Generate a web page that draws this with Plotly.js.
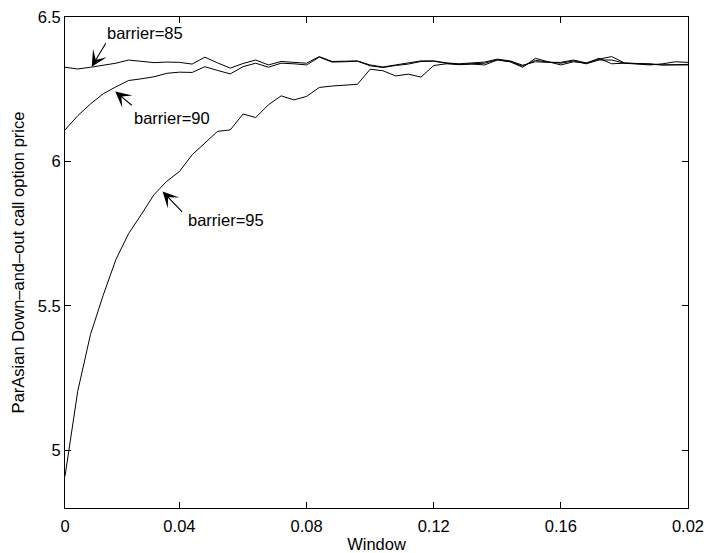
<!DOCTYPE html>
<html>
<head>
<meta charset="utf-8">
<script src="https://cdn.plot.ly/plotly-3.0.1.min.js"></script>
<style>
  html, body { margin: 0; padding: 0; background: #fff; }
  #chart { width: 708px; height: 553px; }
</style>
</head>
<body>
<div id="chart"></div>
<script>
// Window width (x) for each priced contract
const windowSize = [
  0.004, 0.008, 0.012, 0.016, 0.020, 0.024, 0.028, 0.032, 0.036, 0.040,
  0.044, 0.048, 0.052, 0.056, 0.060, 0.064, 0.068, 0.072, 0.076, 0.080,
  0.084, 0.088, 0.092, 0.096, 0.100, 0.104, 0.108, 0.112, 0.116, 0.120,
  0.124, 0.128, 0.132, 0.136, 0.140, 0.144, 0.148, 0.152, 0.156, 0.160,
  0.164, 0.168, 0.172, 0.176, 0.180, 0.184, 0.188, 0.192, 0.196, 0.200
];

// ParAsian down-and-out call prices, one series per barrier level
const priceBarrier85 = [
  6.326, 6.320, 6.326, 6.334, 6.340, 6.351, 6.346, 6.342, 6.344, 6.343,
  6.337, 6.361, 6.341, 6.323, 6.339, 6.351, 6.334, 6.346, 6.343, 6.340,
  6.363, 6.346, 6.347, 6.348, 6.334, 6.327, 6.334, 6.341, 6.348, 6.348,
  6.341, 6.338, 6.340, 6.344, 6.354, 6.348, 6.333, 6.345, 6.343, 6.343,
  6.351, 6.341, 6.354, 6.363, 6.341, 6.338, 6.336, 6.334, 6.334, 6.334
];

const priceBarrier90 = [
  6.109, 6.158, 6.199, 6.234, 6.258, 6.280, 6.286, 6.293, 6.305, 6.309,
  6.308, 6.328, 6.315, 6.303, 6.328, 6.340, 6.326, 6.340, 6.338, 6.334,
  6.361, 6.344, 6.345, 6.347, 6.331, 6.325, 6.332, 6.337, 6.346, 6.347,
  6.340, 6.336, 6.338, 6.340, 6.352, 6.346, 6.330, 6.350, 6.344, 6.340,
  6.348, 6.338, 6.351, 6.351, 6.340, 6.340, 6.338, 6.334, 6.336, 6.336
];

const priceBarrier95 = [
  4.910, 5.204, 5.400, 5.536, 5.660, 5.750, 5.816, 5.885, 5.931, 5.965,
  6.023, 6.063, 6.104, 6.109, 6.164, 6.152, 6.196, 6.227, 6.213, 6.225,
  6.256, 6.261, 6.264, 6.267, 6.319, 6.314, 6.296, 6.302, 6.292, 6.332,
  6.338, 6.335, 6.337, 6.334, 6.351, 6.345, 6.326, 6.357, 6.345, 6.334,
  6.345, 6.340, 6.357, 6.338, 6.340, 6.338, 6.334, 6.338, 6.345, 6.343
];

// Axis ticks and their printed labels
const xTickVals = [0.004, 0.04, 0.08, 0.12, 0.16, 0.2];
const xTickText = ['0', '0.04', '0.08', '0.12', '0.16', '0.02'];
const yTickVals = [5, 5.5, 6, 6.5];
const yTickText = ['5', '5.5', '6', '6.5'];

const seriesLabels = ['barrier=85', 'barrier=90', 'barrier=95'];

const FONT = 'Liberation Sans, Arial, Helvetica, sans-serif';
const lineStyle = { color: '#000', width: 1 };

const traces = [priceBarrier85, priceBarrier90, priceBarrier95].map((ys, i) => ({
  x: windowSize,
  y: ys,
  type: 'scatter',
  mode: 'lines',
  name: seriesLabels[i],
  line: lineStyle,
  hoverinfo: 'x+y+name'
}));

// Arrow pointing at each curve plus a free-standing label beside it
function arrow(x, y, ax, ay) {
  return {
    x: x, y: y, xref: 'x', yref: 'y',
    ax: ax, ay: ay, axref: 'pixel', ayref: 'pixel',
    text: '', showarrow: true,
    arrowhead: 3, arrowsize: 2.4, arrowwidth: 1.1, arrowcolor: '#000'
  };
}
function label(x, y, text) {
  return {
    x: x, y: y, xref: 'x', yref: 'y',
    text: text, showarrow: false,
    xanchor: 'center', yanchor: 'middle',
    font: { family: FONT, size: 16.5, color: '#000' }
  };
}

const annotations = [
  arrow(0.0124, 6.328, 15, -25),
  label(0.0292, 6.445, seriesLabels[0]),
  arrow(0.0198, 6.242, 18, 15),
  label(0.0377, 6.151, seriesLabels[1]),
  arrow(0.0347, 5.896, 21, 22),
  label(0.0547, 5.798, seriesLabels[2])
];

const axisCommon = {
  showgrid: false,
  zeroline: false,
  showline: true,
  linecolor: '#000',
  linewidth: 1,
  mirror: 'ticks',
  ticks: 'inside',
  ticklen: 6,
  tickwidth: 1,
  tickcolor: '#000',
  tickmode: 'array',
  tickfont: { family: FONT, size: 16.5, color: '#000' }
};

const layout = {
  width: 708,
  height: 553,
  margin: { l: 65, r: 20, t: 17, b: 45 },
  paper_bgcolor: '#fff',
  plot_bgcolor: '#fff',
  showlegend: false,
  xaxis: Object.assign({}, axisCommon, {
    range: [0.004, 0.2],
    tickvals: xTickVals,
    ticktext: xTickText,
    automargin: false,
    ticklabelstandoff: 3,
    title: { text: 'Window', font: { family: FONT, size: 16.5, color: '#000' }, standoff: 4 }
  }),
  yaxis: Object.assign({}, axisCommon, {
    range: [4.8, 6.5],
    tickvals: yTickVals,
    ticktext: yTickText,
    automargin: false,
    title: { text: 'ParAsian Down–and–out call option price', font: { family: FONT, size: 16.5, color: '#000' }, standoff: 8 }
  }),
  annotations: annotations
};

Plotly.newPlot('chart', traces, layout, { displayModeBar: false, staticPlot: true });
</script>
</body>
</html>
